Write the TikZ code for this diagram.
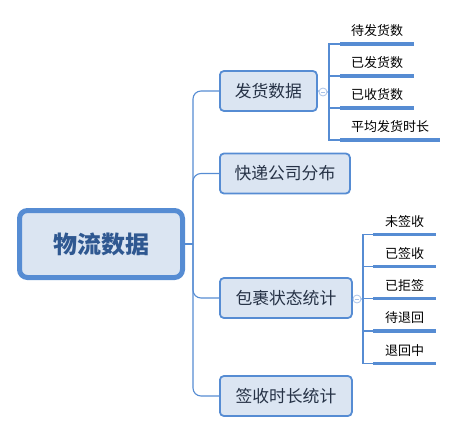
\documentclass[tikz,border=0pt]{standalone}
\usepackage{fontspec}
\newfontfamily\cjk{Noto Sans CJK SC}
\usetikzlibrary{positioning}
\definecolor{mapblue}{RGB}{86,140,211}
\definecolor{mapfill}{RGB}{219,229,242}
\definecolor{maptext}{RGB}{38,50,70}
\definecolor{roottext}{RGB}{47,88,145}
\definecolor{foldblue}{RGB}{170,195,232}

\begin{document}
\begin{tikzpicture}[x=1pt,y=-1pt, every node/.style={font=\cjk},
  branch/.style={draw=mapblue,line width=1.8pt,rounded corners=4pt,fill=mapfill,text=maptext,
    inner sep=0pt,minimum height=40pt,anchor=west,font=\cjk\fontsize{16.8}{20}\selectfont},
  leaf/.style={anchor=south west,minimum height=26pt,inner sep=0pt,text=black,
    font=\cjk\fontsize{13}{16}\selectfont},
  leafline/.style={draw=mapblue,line width=3.2pt},
  twig/.style={draw=mapblue,line width=1.1pt},
  fold/.style={circle,draw=foldblue,fill=white,line width=0.8pt,minimum size=8pt,inner sep=0pt,
    path picture={\draw[foldblue,line width=0.8pt] ([xshift=-2.2pt]path picture bounding box.center)
      -- ([xshift=2.2pt]path picture bounding box.center);}}]
  \useasboundingbox (0,0) rectangle (458,434);

  % centre topic
  \node[draw=mapblue,line width=5pt,rounded corners=8pt,fill=mapfill,text=roottext,
    minimum width=163pt,minimum height=67pt,inner sep=0pt,
    font=\cjk\bfseries\fontsize{24}{27}\selectfont] (root) at (101,244) {物流数据};
  \coordinate (hub) at (193,244);
  \draw[twig] (root.east) -- (hub);

  % main branches
  \node[branch,minimum width=97pt] (b1) at (219,91) {发货数据};
  \node[branch,minimum width=130pt] (b2) at (219,173.5) {快递公司分布};
  \node[branch,minimum width=132pt] (b3) at (219,298) {包裹状态统计};
  \node[branch,minimum width=132pt] (b4) at (219,396) {签收时长统计};
  \foreach \b in {b1,b2,b3,b4}
    \draw[twig,rounded corners=8pt] (hub) |- (\b.west);

  % leaves of 发货数据
  \node[fold] (f1) at (323,92) {};
  \coordinate (j1) at (329,92);
  \draw[twig] (b1.east) -- (f1) -- (j1);
  \foreach \t/\w [count=\i] in {待发货数/74,已发货数/74,已收货数/74,平均发货时长/100}{
    \node[leaf,minimum width=\w pt] (a\i) at (340,12+32*\i) {\t};
    \draw[twig] (j1) |- (a\i.south west);
    \draw[leafline] (a\i.south west) -- (a\i.south east);
  }

  % leaves of 包裹状态统计
  \node[fold] (f2) at (357,299) {};
  \coordinate (j2) at (363,299);
  \draw[twig] (b3.east) -- (f2) -- (j2);
  \foreach \t [count=\i] in {未签收,已签收,已拒签,待退回,退回中}{
    \node[leaf,minimum width=63pt] (c\i) at (373,202+32.25*\i) {\t};
    \draw[twig] (j2) |- (c\i.south west);
    \draw[leafline] (c\i.south west) -- (c\i.south east);
  }
\end{tikzpicture}
\end{document}
